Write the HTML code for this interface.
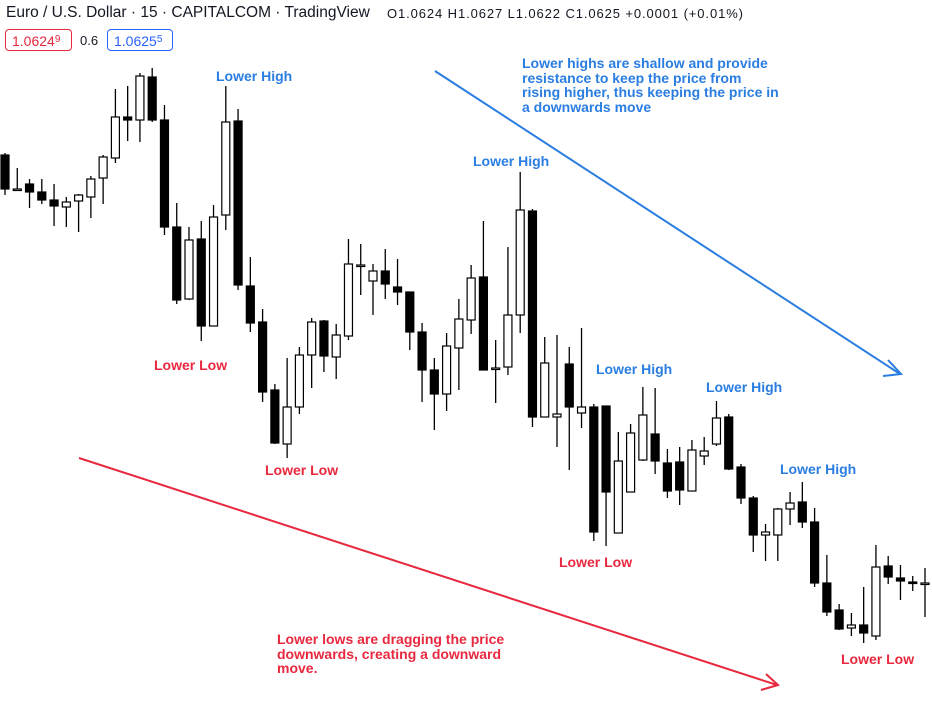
<!DOCTYPE html>
<html><head><meta charset="utf-8">
<style>
body{margin:0;background:#fff;width:932px;height:705px;overflow:hidden;font-family:"Liberation Sans",sans-serif;position:relative}
.t{position:absolute;white-space:nowrap}
.lh{color:#2a7de1;font-weight:bold;font-size:14px}
.ll{color:#e8283f;font-weight:bold;font-size:14px}
.box{position:absolute;top:29px;height:22px;border:1px solid;border-radius:4px;font-size:14px;line-height:19px;padding:0 6px;box-sizing:border-box}
.box sup{font-size:10px;vertical-align:4px}
</style></head><body>
<div class="t" style="left:6px;top:4px;font-size:15.5px;color:#131722">Euro / U.S. Dollar · 15 · CAPITALCOM · TradingView</div>
<div class="t" style="left:387px;top:6px;font-size:13px;color:#131722;letter-spacing:0.9px">O1.0624 H1.0627 L1.0622 C1.0625 +0.0001 (+0.01%)</div>
<div class="box" style="left:5px;width:67px;color:#e8283f;border-color:#e8283f">1.0624<sup>9</sup></div>
<div class="t" style="left:80px;top:33px;font-size:13px;color:#131722">0.6</div>
<div class="box" style="left:107px;width:66px;color:#2a62ff;border-color:#2a62ff">1.0625<sup>5</sup></div>

<svg id="chart" width="932" height="705" style="position:absolute;left:0;top:0">
<line x1="435" y1="71" x2="900" y2="374" stroke="#2a7de1" stroke-width="2"/>
<polyline points="888,360 901,374 883,376" fill="none" stroke="#2a7de1" stroke-width="2"/>
<line x1="79" y1="458" x2="777" y2="685" stroke="#e8283f" stroke-width="2"/>
<polyline points="766,674 778,685 761,690" fill="none" stroke="#e8283f" stroke-width="2"/>
<g id="candles"></g>
</svg>

<div class="t lh" style="left:216px;top:68px">Lower High</div>
<div class="t lh" style="left:473px;top:153px">Lower High</div>
<div class="t lh" style="left:596px;top:361px">Lower High</div>
<div class="t lh" style="left:706px;top:379px">Lower High</div>
<div class="t lh" style="left:780px;top:461px">Lower High</div>
<div class="t ll" style="left:154px;top:357px">Lower Low</div>
<div class="t ll" style="left:265px;top:462px">Lower Low</div>
<div class="t ll" style="left:559px;top:554px">Lower Low</div>
<div class="t ll" style="left:841px;top:651px">Lower Low</div>
<div class="t lh" style="left:522px;top:56px;line-height:14.5px">Lower highs are shallow and provide<br>resistance to keep the price from<br>rising higher, thus keeping the price in<br>a downwards move</div>
<div class="t ll" style="left:277px;top:632px;line-height:14.5px">Lower lows are dragging the price<br>downwards, creating a downward<br>move.</div>

<script>
// values in chart units (higher = higher price)
const opens =[545,511,516,508,500,493,499,503,522,542,583,580,623,580,473,401,461,374,485,579,414,378,310,256,293,345,379,343,364,435,419,429,413,408,368,330,306,352,380,423,332,333,385,489,283,283,336,287,293,294,167,208,240,266,237,238,209,244,256,283,233,202,165,165,191,198,178,117,90,72,75,64,134,122,118,117];
const highs =[547,532,521,521,516,503,506,524,545,611,614,627,632,595,497,473,479,495,614,591,443,391,316,342,353,382,380,376,461,456,436,451,441,408,377,342,367,401,435,479,360,453,528,491,363,365,353,372,296,213,268,276,313,312,251,253,260,263,299,286,236,204,176,192,208,218,192,145,96,87,113,155,144,135,124,132];
const lows =[505,509,492,496,474,473,468,482,496,537,559,558,578,465,396,400,359,385,470,410,368,298,256,242,286,312,328,321,360,405,385,401,395,350,298,270,289,310,366,330,297,325,367,273,283,253,230,272,159,154,178,213,239,226,202,195,234,235,254,230,196,148,139,139,175,172,113,84,70,64,57,60,116,100,109,83];
const closes=[511,511,508,500,494,498,505,521,543,583,580,624,580,473,400,460,374,483,578,415,377,308,257,293,345,378,344,365,436,435,429,416,408,368,330,306,354,381,422,330,332,385,490,283,337,286,293,293,168,208,239,267,285,239,209,210,250,249,282,231,202,165,168,191,197,178,117,88,71,75,67,133,123,119,117,117];

const N = opens.length;
const xScale = i => 5 + i * ((925 - 5) / 75);
const yScale = v => 700 - v;
const g = document.getElementById('candles');
const NS = 'http://www.w3.org/2000/svg';
for (let i = 0; i < N; i++) {
  const x = xScale(i);
  const o = yScale(opens[i]), c = yScale(closes[i]), h = yScale(highs[i]), l = yScale(lows[i]);
  const up = closes[i] >= opens[i];
  const grp = document.createElementNS(NS, 'g');
  
  
  const top = Math.min(o, c), bot = Math.max(o, c);
  const w1 = document.createElementNS(NS, 'line');
  w1.setAttribute('x1', x); w1.setAttribute('x2', x);
  w1.setAttribute('y1', h); w1.setAttribute('y2', top);
  w1.setAttribute('stroke', '#000'); w1.setAttribute('stroke-width', '1.3');
  
  
  const w2 = document.createElementNS(NS, 'line');
  w2.setAttribute('x1', x); w2.setAttribute('x2', x);
  w2.setAttribute('y1', bot); w2.setAttribute('y2', l);
  w2.setAttribute('stroke', '#000'); w2.setAttribute('stroke-width', '1.3');
  
  
  const r = document.createElementNS(NS, 'rect');
  const bh = Math.max(bot - top, 1.5);
  r.setAttribute('x', x - 4); r.setAttribute('width', 8);
  r.setAttribute('y', top); r.setAttribute('height', bh);
  r.setAttribute('fill', up ? '#fff' : '#000');
  r.setAttribute('stroke', '#000'); r.setAttribute('stroke-width', '1.2');
  
  
  grp.appendChild(w1); grp.appendChild(w2); grp.appendChild(r);
  g.appendChild(grp);
}
</script>
</body></html>
